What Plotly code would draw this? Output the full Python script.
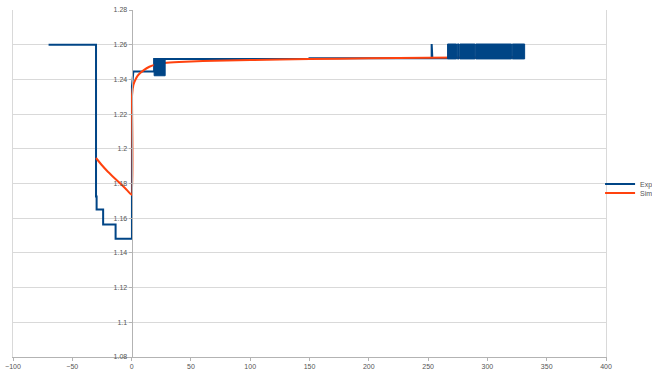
import plotly.graph_objects as go

# Measured step response (experiment)
exp_x = [-70, -30, -30, -29.5, -29.5, -24, -24, -13.5, -13.5, 0.3, 0.3, 1.5, 19,
         19, 150, 150, 253, 253, 253.6, 253.6, 266.4]
exp_y = [1.26, 1.26, 1.1725, 1.1725, 1.165, 1.165, 1.1563, 1.1563, 1.1482, 1.1482, 1.236, 1.2446, 1.2446,
         1.2518, 1.2518, 1.2522, 1.2522, 1.2604, 1.2604, 1.2522, 1.2522]

# Intervals where the measured signal toggles too fast to resolve (drawn as solid bands)
band_start = [19, 266.4, 274.6, 276.8, 290.1, 321.0]
band_end = [28.3, 274.0, 276.2, 289.5, 320.4, 331.4]
band_lo = [1.2421, 1.2518, 1.2518, 1.2518, 1.2518, 1.2518]
band_hi = [1.2518, 1.2604, 1.2604, 1.2604, 1.2604, 1.2604]

# Simulated response
sim_x = [-30, -25, -20, -15, -10, -5, 0, 0.4, 1.5, 3, 5, 7.5, 10, 15, 20, 28, 40, 60,
         100, 150, 200, 250, 300, 331]
sim_y = [1.1947, 1.1905, 1.1868, 1.1835, 1.1803, 1.177, 1.1735, 1.231, 1.2368, 1.2395, 1.242,
         1.2438, 1.2452, 1.2473, 1.2485, 1.2494, 1.25, 1.2506, 1.2512, 1.2517, 1.2522, 1.2525,
         1.2528, 1.253]

x_ticks = [-100, -50, 0, 50, 100, 150, 200, 250, 300, 350, 400]
y_ticks = [1.08, 1.1, 1.12, 1.14, 1.16, 1.18, 1.2, 1.22, 1.24, 1.26, 1.28]
y_labels = ["1.08", "1.1", "1.12", "1.14", "1.16", "1.18", "1.2", "1.22", "1.24", "1.26", "1.28"]

BLUE = "#004586"
RED = "#ff420e"
AXIS = "#b3b3b3"
GRID = "#d9d9d9"

band_x, band_y = [], []
for a, b, lo, hi in zip(band_start, band_end, band_lo, band_hi):
    band_x += [a, b, b, a, a, None]
    band_y += [lo, lo, hi, hi, lo, None]

fig = go.Figure()
fig.add_trace(go.Scatter(x=exp_x, y=exp_y, mode="lines", name="Experiment",
                         line=dict(color=BLUE, width=2), legend="legend"))
fig.add_trace(go.Scatter(x=sim_x, y=sim_y, mode="lines", name="Simulation",
                         line=dict(color=RED, width=2, shape="spline", smoothing=0.4),
                         legend="legend2"))
fig.add_trace(go.Scatter(x=band_x, y=band_y, mode="lines", fill="toself", fillcolor=BLUE,
                         line=dict(color=BLUE, width=1), showlegend=False, yaxis="y2",
                         hoverinfo="skip"))

tickfont = dict(family="Liberation Sans, Arial, sans-serif", size=7, color="#555555")
legend_common = dict(x=0.99, xanchor="left", yanchor="middle", font=dict(size=7),
                     bgcolor="rgba(0,0,0,0)", borderwidth=0)

fig.update_layout(
    width=652, height=370,
    margin=dict(l=13, r=46, t=10, b=13, autoexpand=False),
    paper_bgcolor="white", plot_bgcolor="white",
    font=dict(family="Liberation Sans, Arial, sans-serif", size=7, color="#555555"),
    xaxis=dict(range=[-100, 400], tickvals=x_ticks, showgrid=False, zeroline=False,
               showline=True, linecolor=AXIS, linewidth=1, ticks="outside", ticklen=3,
               tickcolor=AXIS, tickfont=tickfont),
    yaxis=dict(range=[1.08, 1.28], tickvals=y_ticks, ticktext=y_labels, showgrid=True,
               gridcolor=GRID, gridwidth=1, zeroline=False, anchor="free", position=0.2,
               showline=True, linecolor=AXIS, linewidth=1, ticks="outside", ticklen=3,
               tickcolor=AXIS, tickfont=tickfont),
    yaxis2=dict(range=[1.08, 1.28], overlaying="y", anchor="x", side="left",
                showline=True, mirror=True, linecolor=GRID, linewidth=1,
                showgrid=False, zeroline=False, showticklabels=False, ticks=""),
    legend=dict(y=0.4986, **legend_common),
    legend2=dict(y=0.4726, **legend_common),
    showlegend=True,
)

fig.write_html("out.html")
